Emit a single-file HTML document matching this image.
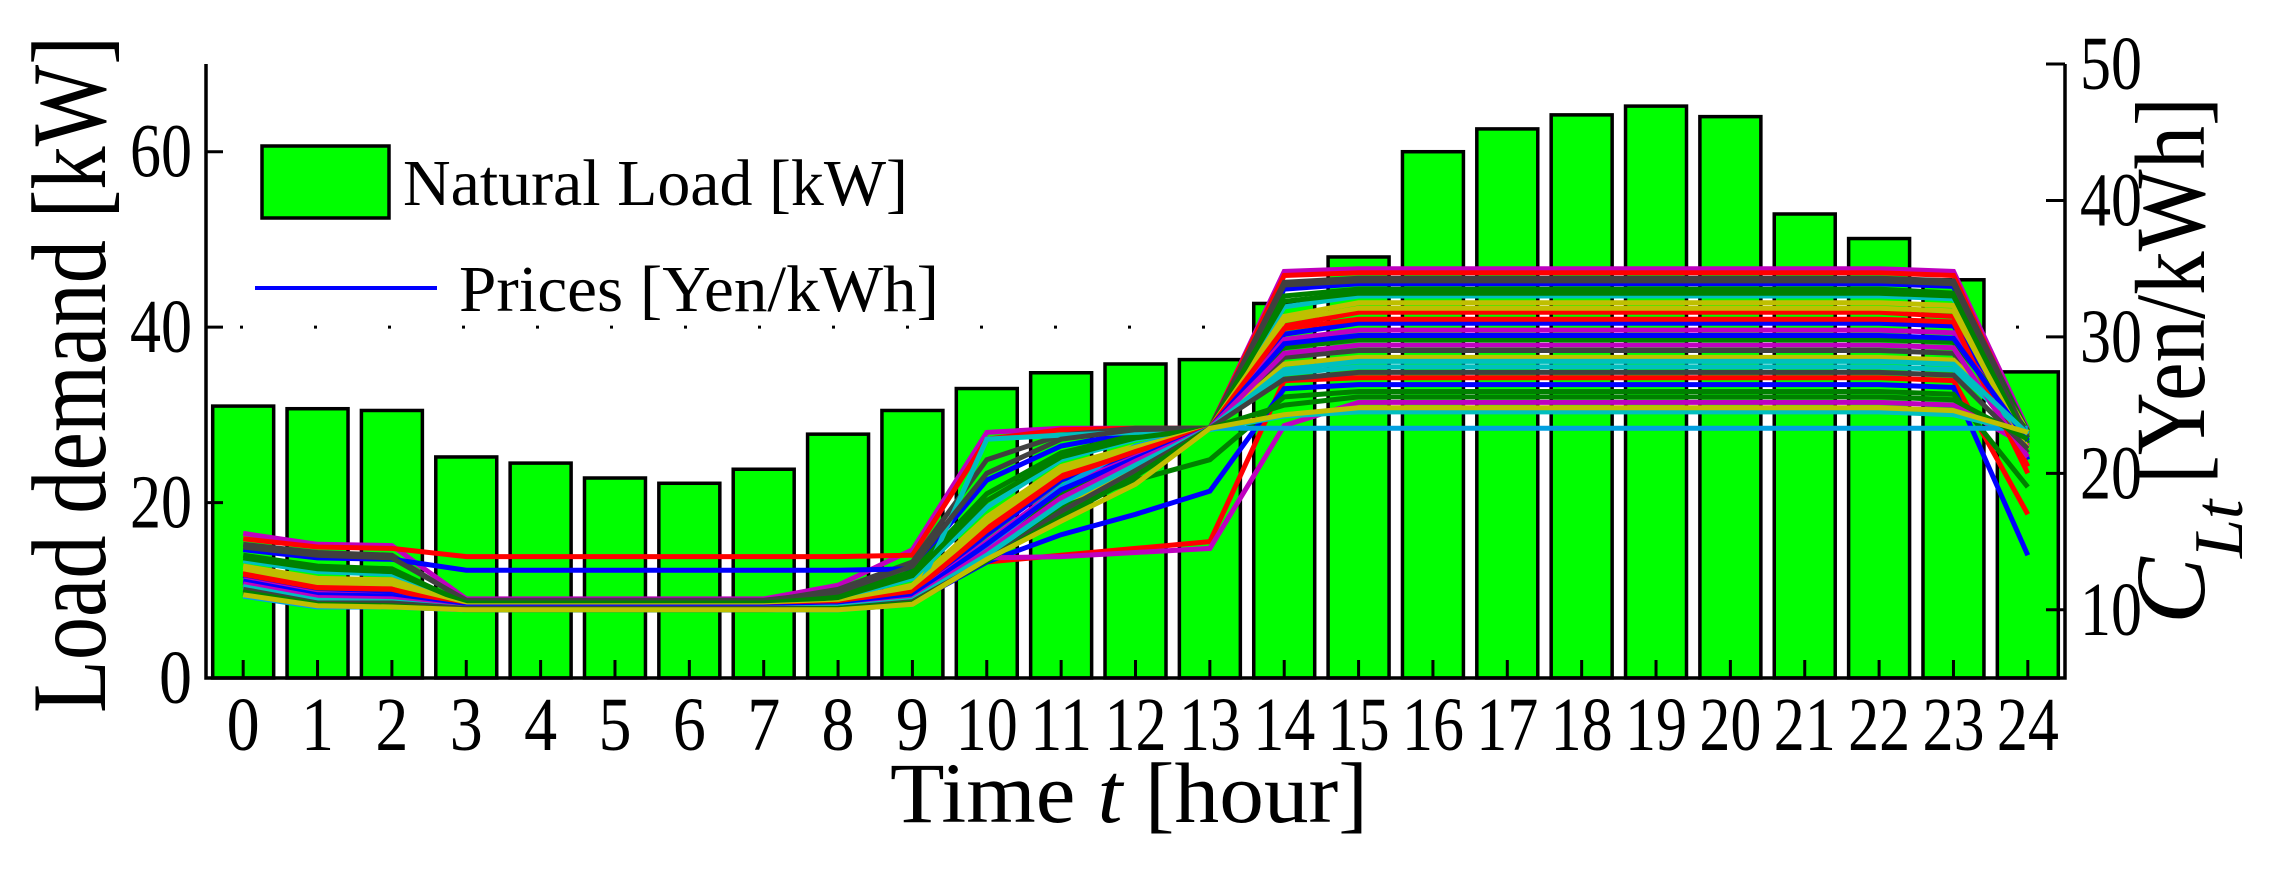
<!DOCTYPE html>
<html><head><meta charset="utf-8"><style>
html,body{margin:0;padding:0;background:#fff;}
svg{display:block;}
text{font-family:"Liberation Serif",serif;fill:#000;}
</style></head><body>
<svg id="chart" width="2270" height="873" viewBox="0 0 2270 873" xmlns="http://www.w3.org/2000/svg">
<g id="grid"></g><g id="bars"></g><g id="lines"></g><g id="axes"></g><g id="labels"></g>
</svg>
<script>
const hours=[0,1,2,3,4,5,6,7,8,9,10,11,12,13,14,15,16,17,18,19,20,21,22,23,24];
const loadValues=[31,30.7,30.5,25.2,24.5,22.8,22.2,23.8,27.8,30.5,33,34.8,35.8,36.3,42.7,48,60,62.6,64.2,65.2,64,52.9,50.1,45.4,34.9];
const leftTicks=[0,20,40,60];
const rightTicks=[10,20,30,40,50];
const priceColors=["#bf00bf","#ff0000","#404040","#0000ff","#008000","#00bfbf","#bfbf00","#ff0000","#0000ff","#bf00bf","#008000","#404040","#bfbf00","#00bfbf","#ff0000","#0000ff","#008000","#bf00bf","#00bfbf","#00a0e0","#404040","#008000","#bfbf00","#ff0000","#0000ff","#bf00bf","#00bfbf","#404040","#008000","#bfbf00"];
const p1=[15.6,14.8,14.7,10.8,10.8,10.8,10.8,10.8,11.8,14.4,23.0,23.3,23.3,23.3,34.8,35.0,35.0,35.0,35.0,35.0,35.0,35.0,35.0,34.8,23.2];
const p2=[15.2,14.6,14.5,13.9,13.9,13.9,13.9,13.9,13.9,14.0,22.5,23.2,23.3,23.3,34.5,34.7,34.7,34.7,34.7,34.7,34.7,34.7,34.7,34.5,22.8];
const p3=[14.8,14.2,14.0,10.6,10.6,10.6,10.6,10.6,11.5,13.5,21.0,22.8,23.3,23.3,34.0,34.3,34.3,34.3,34.3,34.3,34.3,34.3,34.3,34.1,23.0];
const p4=[14.4,13.8,13.7,12.9,12.9,12.9,12.9,12.9,12.9,13.0,19.5,22.0,23.0,23.3,33.5,33.9,33.9,33.9,33.9,33.9,33.9,33.9,33.9,33.7,21.0];
const p5=[14.0,13.2,13.0,10.4,10.4,10.4,10.4,10.4,11.0,12.8,18.5,21.5,22.8,23.3,33.0,33.5,33.5,33.5,33.5,33.5,33.5,33.5,33.5,33.2,23.1];
const p6=[13.6,12.8,12.6,10.4,10.4,10.4,10.4,10.4,10.8,12.3,17.5,21.0,22.5,23.3,32.2,33.0,33.0,33.0,33.0,33.0,33.0,33.0,33.0,32.8,22.5];
const p7=[13.2,12.3,12.2,10.3,10.3,10.3,10.3,10.3,10.6,11.8,16.8,20.5,22.0,23.3,31.5,32.5,32.5,32.5,32.5,32.5,32.5,32.5,32.5,32.3,23.0];
const p8=[12.8,11.8,11.7,10.3,10.3,10.3,10.3,10.3,10.5,11.5,16.0,20.0,21.8,23.3,30.8,31.8,31.8,31.8,31.8,31.8,31.8,31.8,31.8,31.5,20.5];
const p9=[12.5,11.5,11.3,10.2,10.2,10.2,10.2,10.2,10.4,11.2,15.5,19.5,21.5,23.3,30.2,31.0,31.0,31.0,31.0,31.0,31.0,31.0,31.0,30.8,23.0];
const p10=[12.2,11.2,11.0,10.2,10.2,10.2,10.2,10.2,10.3,11.0,15.0,19.0,21.2,23.3,29.8,30.5,30.5,30.5,30.5,30.5,30.5,30.5,30.5,30.3,22.0];
const p11=[12.0,11.0,10.9,10.2,10.2,10.2,10.2,10.2,10.2,10.9,14.5,18.5,21.0,23.3,29.2,29.8,29.8,29.8,29.8,29.8,29.8,29.8,29.8,29.6,23.1];
const p12=[11.8,10.8,10.7,10.1,10.1,10.1,10.1,10.1,10.2,10.8,14.2,18.0,20.8,23.3,28.5,29.0,29.0,29.0,29.0,29.0,29.0,29.0,29.0,28.8,21.5];
const p13=[11.6,10.6,10.5,10.1,10.1,10.1,10.1,10.1,10.2,10.7,13.8,17.5,20.5,23.3,28.0,28.5,28.5,28.5,28.5,28.5,28.5,28.5,28.5,28.3,23.0];
const p14=[11.5,10.5,10.4,10.1,10.1,10.1,10.1,10.1,10.1,10.6,13.5,17.0,20.0,23.3,27.3,27.8,27.8,27.8,27.8,27.8,27.8,27.8,27.8,27.6,22.8];
const p15=[11.4,10.4,10.3,10.1,10.1,10.1,10.1,10.1,10.1,10.6,13.5,14.0,14.5,15.0,26.8,27.0,27.0,27.0,27.0,27.0,27.0,27.0,27.0,26.8,17.0];
const p16=[11.3,10.4,10.3,10.0,10.0,10.0,10.0,10.0,10.1,10.5,13.5,15.5,17.0,18.7,26.2,26.5,26.5,26.5,26.5,26.5,26.5,26.5,26.5,26.3,14.0];
const p17=[11.2,10.3,10.3,10.0,10.0,10.0,10.0,10.0,10.1,10.5,14.0,17.5,19.5,21.0,25.6,26.0,26.0,26.0,26.0,26.0,26.0,26.0,26.0,25.8,19.0];
const p18=[11.2,10.3,10.2,10.0,10.0,10.0,10.0,10.0,10.0,10.5,13.8,13.9,14.2,14.5,23.5,25.2,25.2,25.2,25.2,25.2,25.2,25.2,25.2,25.0,22.0];
const p19=[11.1,10.2,10.2,10.0,10.0,10.0,10.0,10.0,10.0,10.5,22.5,22.8,23.0,23.2,24.2,24.5,24.5,24.5,24.5,24.5,24.5,24.5,24.5,24.3,23.0];
const p20=[11.0,10.2,10.2,10.0,10.0,10.0,10.0,10.0,10.0,10.4,14.5,19.0,22.0,23.3,23.3,23.3,23.3,23.3,23.3,23.3,23.3,23.3,23.3,23.3,23.3];
const p21=[14.6,14.0,13.8,10.7,10.7,10.7,10.7,10.7,11.3,13.2,20.0,22.5,23.2,23.3,33.8,34.1,34.1,34.1,34.1,34.1,34.1,34.1,34.1,33.9,22.6];
const p22=[13.8,13.0,12.8,10.5,10.5,10.5,10.5,10.5,10.9,12.5,18.0,21.2,22.6,23.3,32.6,33.2,33.2,33.2,33.2,33.2,33.2,33.2,33.2,33.0,22.2];
const p23=[13.0,12.0,11.9,10.3,10.3,10.3,10.3,10.3,10.5,11.6,16.4,20.2,21.9,23.3,31.2,32.1,32.1,32.1,32.1,32.1,32.1,32.1,32.1,31.9,21.8];
const p24=[12.6,11.6,11.5,10.2,10.2,10.2,10.2,10.2,10.4,11.3,15.8,19.7,21.6,23.3,30.6,31.3,31.3,31.3,31.3,31.3,31.3,31.3,31.3,31.1,20.0];
const p25=[12.1,11.1,11.0,10.2,10.2,10.2,10.2,10.2,10.3,11.0,14.8,18.8,21.1,23.3,29.5,30.1,30.1,30.1,30.1,30.1,30.1,30.1,30.1,29.9,22.4];
const p26=[11.9,10.9,10.8,10.1,10.1,10.1,10.1,10.1,10.2,10.8,14.3,18.2,20.9,23.3,28.8,29.4,29.4,29.4,29.4,29.4,29.4,29.4,29.4,29.2,21.2];
const p27=[11.7,10.7,10.6,10.1,10.1,10.1,10.1,10.1,10.2,10.7,14.0,17.8,20.6,23.3,27.6,28.2,28.2,28.2,28.2,28.2,28.2,28.2,28.2,28.0,22.9];
const p28=[11.5,10.5,10.5,10.1,10.1,10.1,10.1,10.1,10.1,10.6,13.6,17.2,20.2,23.3,26.9,27.4,27.4,27.4,27.4,27.4,27.4,27.4,27.4,27.2,21.8];
const p29=[11.3,10.4,10.3,10.0,10.0,10.0,10.0,10.0,10.1,10.5,13.6,16.8,19.8,23.3,25.0,25.6,25.6,25.6,25.6,25.6,25.6,25.6,25.6,25.4,22.5];
const p30=[11.1,10.3,10.2,10.0,10.0,10.0,10.0,10.0,10.0,10.4,13.7,16.5,19.2,23.3,24.3,24.8,24.8,24.8,24.8,24.8,24.8,24.8,24.8,24.6,23.0];
const priceSeries=[p1,p2,p3,p4,p5,p6,p7,p8,p9,p10,p11,p12,p13,p14,p15,p16,p17,p18,p19,p20,p21,p22,p23,p24,p25,p26,p27,p28,p29,p30];

const NS="http://www.w3.org/2000/svg";
const X0=206,X1=2065,Y0=678,YT=64;
const xs=i=>X0+(i+0.5)*(X1-X0)/25;
const yL=v=>Y0-(v/70)*(Y0-YT);
const yR=v=>Y0-((v-5)/45)*(Y0-YT);
function mk(tag,attrs,parent){const e=document.createElementNS(NS,tag);for(const k in attrs)e.setAttribute(k,attrs[k]);parent.appendChild(e);return e;}
const G=id=>document.getElementById(id);

const gl=mk('line',{x1:X0,x2:X1,y1:yL(40),y2:yL(40),stroke:'#000','stroke-width':3,'stroke-dasharray':'3 71','stroke-dashoffset':'-34'},G('grid'));



const bw=(X1-X0)/25*0.82;
loadValues.forEach((v,i)=>{
  const r=mk('rect',{x:xs(hours[i])-bw/2,y:yL(v),width:bw,height:Y0-yL(v),fill:'#00ff00',stroke:'#000','stroke-width':3.5},G('bars'));
  
  
});
priceSeries.forEach((s,k)=>{
  const pts=s.map((v,i)=>xs(hours[i]).toFixed(1)+','+yR(v).toFixed(1)).join(' ');
  const l=mk('polyline',{points:pts,fill:'none',stroke:priceColors[k%priceColors.length],'stroke-width':5,'stroke-linejoin':'miter'},G('lines'));
  
  
});

const ax=G('axes');
const a1=mk('path',{d:`M${X0},${YT} V${Y0} H${X1} V${YT}`,fill:'none',stroke:'#000','stroke-width':3.5},ax);


const lab=G('labels');
hours.forEach(h=>{
  mk('line',{x1:xs(h),x2:xs(h),y1:Y0,y2:Y0-18,stroke:'#000','stroke-width':3},ax);
  const t=mk('text',{x:xs(h),y:750,'text-anchor':'middle','font-size':76,'textLength':h>=10?62:33,'lengthAdjust':'spacingAndGlyphs'},lab);
  t.textContent=h;
  
  
});
leftTicks.forEach(v=>{
  mk('line',{x1:X0,x2:X0+17,y1:yL(v),y2:yL(v),stroke:'#000','stroke-width':3},ax);
  const t=mk('text',{x:192,y:yL(v)+25,'text-anchor':'end','font-size':76,'textLength':v>=10?62:33,'lengthAdjust':'spacingAndGlyphs'},lab);
  t.textContent=v;
  
  
});
rightTicks.forEach(v=>{
  mk('line',{x1:X1,x2:X1-19,y1:yR(v),y2:yR(v),stroke:'#000','stroke-width':3},ax);
  const t=mk('text',{x:2080,y:yR(v)+25,'text-anchor':'start','font-size':76,'textLength':62,'lengthAdjust':'spacingAndGlyphs'},lab);
  t.textContent=v;
  
  
});
</script>
<svg style="position:absolute;left:0;top:0" width="2270" height="873">
  <text transform="translate(105,713) rotate(-90)" font-size="106" textLength="677" lengthAdjust="spacingAndGlyphs" style="font-family:'Liberation Serif',serif">Load demand [kW]</text>
  <text x="890" y="822" font-size="86" textLength="478" lengthAdjust="spacingAndGlyphs" style="font-family:'Liberation Serif',serif">Time  <tspan font-style="italic">t</tspan> [hour]</text>
  <g transform="translate(2204,624) rotate(-90)" style="font-family:'Liberation Serif',serif">
    <text x="0" y="0" font-size="100" font-style="italic">C</text>
    <text x="66" y="38" font-size="70" font-style="italic">Lt</text>
    <text x="140" y="0" font-size="100" textLength="387" lengthAdjust="spacingAndGlyphs">[Yen/kWh]</text>
  </g>
  <g>
    <rect x="262" y="146" width="127" height="72" fill="#00ff00" stroke="#000" stroke-width="3.5"/>
    <text x="403" y="205" font-size="66" textLength="505" lengthAdjust="spacingAndGlyphs" style="font-family:'Liberation Serif',serif">Natural Load [kW]</text>
    <line x1="255" x2="437" y1="288" y2="288" stroke="#0000ff" stroke-width="4"/>
    <text x="459" y="311" font-size="66" textLength="480" lengthAdjust="spacingAndGlyphs" style="font-family:'Liberation Serif',serif">Prices [Yen/kWh]</text>
  </g>
</svg>
</body></html>
